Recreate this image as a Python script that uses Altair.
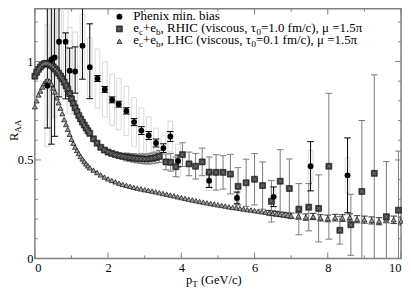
import altair as alt
import pandas as pd

# ---------------- data ----------------
phenix_x = [0.34, 0.45, 0.54, 0.66, 0.84, 0.95, 1.10, 1.30, 1.50, 1.71, 1.91, 2.11, 2.29,
            2.50, 2.71, 2.91, 3.11, 3.31, 3.51, 3.70, 3.91, 4.76, 5.52, 6.52, 7.53, 8.54]
phenix_y = [0.877, 1.01, 1.02, 1.10, 1.10, 0.953, 0.949, 1.08, 0.971, 0.913, 0.858, 0.805, 0.783,
            0.749, 0.692, 0.649, 0.624, 0.586, 0.560, 0.619, 0.495, 0.395, 0.307, 0.313, 0.468, 0.422]
phenix_lo = [0.215, 0.43, 0.40, 0.28, 0.29, 0.115, 0.11, 0.17, 0.16, 0.015, 0.015, 0.015, 0.015,
             0.016, 0.018, 0.02, 0.02, 0.02, 0.022, 0.025, 0.03, 0.035, 0.03, 0.05, 0.125, 0.19]
phenix_hi = [0.6, 0.6, 0.6, 0.6, 0.045, 0.115, 0.125, 0.2, 0.22, 0.015, 0.015, 0.015, 0.015,
             0.016, 0.018, 0.02, 0.02, 0.02, 0.022, 0.025, 0.03, 0.035, 0.03, 0.05, 0.125, 0.19]
phenix_sys = [0.31, 0.30, 0.30, 0.28, 0.27, 0.22, 0.20, 0.16, 0.15, 0.15, 0.14, 0.13, 0.13,
              0.125, 0.125, 0.115, 0.095, 0.075, 0.066, 0.078, 0.085, 0.05, 0.03, 0.033, 0.08, 0.09]

rhic_x = [0.0, 0.05, 0.1, 0.15, 0.2, 0.25, 0.3, 0.35, 0.4, 0.45, 0.5, 0.55, 0.6, 0.65, 0.7, 0.75,
          0.8, 0.85, 0.9, 0.95, 1.0, 1.05, 1.1, 1.15, 1.2, 1.25, 1.3, 1.35, 1.4, 1.45, 1.5,
          1.6, 1.7, 1.8, 1.9, 2.0, 2.1, 2.2, 2.3, 2.4, 2.5, 2.6, 2.7, 2.8, 2.9, 3.0, 3.1, 3.2, 3.3, 3.4,
          3.58, 3.71, 3.85, 4.03, 4.21, 4.39, 4.57, 4.76, 4.95, 5.14, 5.34, 5.55, 5.77, 6.0, 6.22,
          6.46, 6.70, 6.95, 7.21, 7.48, 7.75, 8.03, 8.33, 8.63, 8.93, 9.27, 9.6, 9.93]
rhic_y = [0.925, 0.945, 0.96, 0.972, 0.982, 0.988, 0.99, 0.99, 0.986, 0.98, 0.972, 0.962, 0.952,
          0.94, 0.926, 0.912, 0.895, 0.877, 0.86, 0.837, 0.81, 0.787, 0.765, 0.745, 0.725, 0.708,
          0.692, 0.677, 0.662, 0.648, 0.635,
          0.607, 0.585, 0.564, 0.55, 0.54, 0.533, 0.527, 0.522, 0.518, 0.515, 0.512, 0.51, 0.507,
          0.506, 0.505, 0.505, 0.508, 0.512, 0.518,
          0.49, 0.488, 0.465, 0.527, 0.48, 0.468, 0.49, 0.438, 0.437, 0.437, 0.428, 0.366, 0.384,
          0.402, 0.37, 0.29, 0.392, 0.355, 0.25, 0.26, 0.254, 0.468, 0.143, 0.171, 0.34, 0.432,
          0.212, 0.245]
rhic_err_x = [2.5, 2.6, 2.7, 2.8, 2.9, 3.0, 3.1, 3.2, 3.3, 3.4,
              3.58, 3.71, 3.85, 4.03, 4.21, 4.39, 4.57, 4.76, 4.95, 5.14, 5.34, 5.55, 5.77, 6.0, 6.22,
              6.46, 6.70, 6.95, 7.21, 7.48, 7.75, 8.03, 8.33, 8.63, 8.93, 9.27, 9.6, 9.93]
rhic_err = [0.02, 0.02, 0.022, 0.022, 0.024, 0.025, 0.026, 0.027, 0.028, 0.03,
            0.04, 0.045, 0.05, 0.06, 0.06, 0.065, 0.07, 0.077, 0.09, 0.085, 0.1, 0.095, 0.12, 0.13,
            0.12, 0.105, 0.16, 0.15, 0.13, 0.12, 0.17, 0.37, 0.07, 0.155, 0.36, 0.5, 0.28, 0.3]

lhc_x = [0.0, 0.05, 0.1, 0.15, 0.2, 0.25, 0.3, 0.35, 0.4, 0.45, 0.5, 0.55, 0.6, 0.65, 0.7, 0.75,
         0.8, 0.85, 0.9, 0.95, 1.0, 1.05, 1.1, 1.15, 1.2, 1.25, 1.3, 1.35, 1.4, 1.45, 1.5,
         1.6, 1.7, 1.8, 1.9, 2.0, 2.1, 2.2, 2.3, 2.4, 2.5, 2.6, 2.7, 2.8, 2.9, 3.0, 3.1, 3.2, 3.3,
         3.4, 3.5, 3.6, 3.7, 3.8, 3.9, 4.0, 4.1, 4.2, 4.3, 4.4, 4.5, 4.6, 4.7, 4.8, 4.9, 5.0, 5.1,
         5.2, 5.3, 5.4, 5.5, 5.6, 5.7, 5.8, 5.9, 6.0, 6.1, 6.2, 6.3, 6.4, 6.5, 6.6, 6.7, 6.8, 6.9,
         7.0, 7.2, 7.4, 7.6, 7.8, 8.0, 8.2, 8.4, 8.6, 8.8, 9.0, 9.2, 9.4, 9.6, 9.8, 10.0]
lhc_y = [0.77, 0.80, 0.83, 0.85, 0.87, 0.888, 0.90, 0.905, 0.90, 0.885, 0.865, 0.845, 0.815, 0.79,
         0.763, 0.735, 0.705, 0.68, 0.655, 0.63, 0.605, 0.585, 0.565, 0.548, 0.533, 0.518, 0.505,
         0.492, 0.48, 0.47, 0.46,
         0.448, 0.436, 0.424, 0.413, 0.404, 0.396, 0.389, 0.382, 0.376, 0.371, 0.366, 0.361, 0.357,
         0.353, 0.349, 0.346, 0.342, 0.338, 0.334, 0.330, 0.326, 0.322, 0.318, 0.313, 0.309, 0.305,
         0.301, 0.297, 0.293, 0.289, 0.286, 0.282, 0.279, 0.276, 0.272, 0.269, 0.266, 0.262, 0.259,
         0.257, 0.254, 0.251, 0.248, 0.246, 0.243, 0.240, 0.237, 0.235, 0.232, 0.229, 0.227, 0.224,
         0.222, 0.219, 0.216,
         0.215, 0.21, 0.213, 0.206, 0.203, 0.207, 0.205, 0.208, 0.199, 0.197, 0.193, 0.189, 0.2,
         0.196, 0.19]
lhc_err_x = [6.4, 6.5, 6.6, 6.7, 6.8, 6.9, 7.0, 7.2, 7.4, 7.6, 7.8, 8.0, 8.2, 8.4, 8.6, 8.8, 9.0,
             9.2, 9.4, 9.6, 9.8, 10.0]
lhc_err = [0.012, 0.012, 0.012, 0.012, 0.012, 0.012, 0.014, 0.016, 0.016, 0.016, 0.016, 0.017,
           0.017, 0.017, 0.018, 0.018, 0.018, 0.018, 0.018, 0.019, 0.019, 0.02]

x_major = [0, 2, 4, 6, 8, 10]
x_minor = [1, 3, 5, 7, 9]
y_major = [0, 0.5, 1]
y_minor = [0.1, 0.2, 0.3, 0.4, 0.6, 0.7, 0.8, 0.9, 1.1, 1.2]

legend_rows = ["Phenix min. bias", "RHIC", "LHC"]

# ---------------- geometry ----------------
W, H = 368, 251
PXU = W / 10.0          # px per GeV/c
PYU = 198.0             # px per unit of R_AA
YMAX = H / PYU
FONT = "Liberation Serif"
FS, SFS = 13, 9
TFS, TSFS = 12.5, 9
AXC = "#808080"

xs = alt.Scale(domain=[0, 10], nice=False, zero=False)
ys = alt.Scale(domain=[0, YMAX], nice=False, zero=False)
xaxis = alt.Axis(values=x_major, labelExpr="datum.value", ticks=False, domain=False, grid=False,
                 title=None, labelFont=FONT, labelFontSize=12.5, labelColor="black", labelPadding=3)
yaxis = alt.Axis(values=y_major, labelExpr="datum.value", ticks=False, domain=False, grid=False,
                 title=None, labelFont=FONT, labelFontSize=12.5, labelColor="black", labelPadding=2)
X = alt.X("x:Q", scale=xs, axis=xaxis)
Y = alt.Y("y:Q", scale=ys, axis=yaxis)

def px2data(px, py):
    return px / PXU, (H - py) / PYU

# ---------------- frames ----------------
ph = pd.DataFrame(dict(x=phenix_x, y=phenix_y, lo=phenix_lo, hi=phenix_hi, sys=phenix_sys))
ph["ylo"] = ph.y - ph.lo
ph["yhi"] = ph.y + ph.hi
ph["bx1"] = ph.x - 0.065
ph["bx2"] = ph.x + 0.065
ph["by1"] = ph.y - ph.sys
ph["by2"] = ph.y + ph.sys
ph["cx1"] = ph.x - 0.09
ph["cx2"] = ph.x + 0.09

rh = pd.DataFrame(dict(x=rhic_x, y=rhic_y))
rhe = pd.DataFrame(dict(x=rhic_err_x, e=rhic_err)).merge(rh, on="x")
rhe["ylo"] = rhe.y - rhe.e
rhe["yhi"] = rhe.y + rhe.e
rhe["cx1"] = rhe.x - 0.09
rhe["cx2"] = rhe.x + 0.09

lh = pd.DataFrame(dict(x=lhc_x, y=lhc_y))
lhe = pd.DataFrame(dict(x=lhc_err_x, e=lhc_err)).merge(lh, on="x")
lhe["ylo"] = lhe.y - lhe.e
lhe["yhi"] = lhe.y + lhe.e
lhe["cx1"] = lhe.x - 0.09
lhe["cx2"] = lhe.x + 0.09


def errbars(df, color, width=1.0):
    base = alt.Chart(df)
    v = base.mark_rule(color=color, strokeWidth=width, clip=True).encode(
        x=X, y=alt.Y("ylo:Q", scale=ys), y2="yhi:Q")
    c1 = base.mark_rule(color=color, strokeWidth=width, clip=True).encode(
        x=alt.X("cx1:Q", scale=xs), x2="cx2:Q", y=alt.Y("ylo:Q", scale=ys))
    c2 = base.mark_rule(color=color, strokeWidth=width, clip=True).encode(
        x=alt.X("cx1:Q", scale=xs), x2="cx2:Q", y=alt.Y("yhi:Q", scale=ys))
    return [v, c1, c2]

boxes = alt.Chart(ph).mark_rect(fill=None, stroke="#dadada", strokeWidth=1, clip=True).encode(
    x=alt.X("bx1:Q", scale=xs), x2="bx2:Q", y=alt.Y("by1:Q", scale=ys), y2="by2:Q")

TRI = dict(shape="triangle-up", filled=True, fill="#9c9c9c", stroke="#1e1e1e", strokeWidth=0.8,
           size=26, opacity=1)
SQ = dict(fill="#3c3c3c", stroke="#111111", strokeWidth=0.6, size=36, opacity=1)
SQX = dict(shape="M-1,-1L1,1M1,-1L-1,1", filled=False, stroke="#9a9a9a", strokeWidth=0.6,
           size=10, opacity=1)

tri = alt.Chart(lh).mark_point(**TRI).encode(x=X, y=Y)
sq = alt.Chart(rh).mark_square(**SQ).encode(x=X, y=Y)
sqx = alt.Chart(rh).mark_point(**SQX).encode(x=X, y=Y)
circ = alt.Chart(ph).mark_circle(color="black", size=34, opacity=1).encode(x=X, y=Y)

# ---------------- legend / titles ----------------
TW = {'e': 444, 'c': 444, '+': 564, 'b': 500, ',': 250, ' ': 250, 'R': 667, 'H': 722, 'I': 333,
      'C': 667, 'L': 611, '(': 333, ')': 333, 'v': 500, 'i': 278, 's': 389, 'o': 500, 'u': 500,
      'τ': 439, '0': 500, '1': 500, '5': 500, '.': 250, '=': 564, 'f': 333, 'm': 778, '/': 278,
      'μ': 576, 'π': 549, 'P': 556, 'h': 500, 'n': 500, 'x': 500, 'a': 444, 'T': 611, 'G': 722,
      'V': 722, 'p': 500, 'A': 722}

def tw(s, fs):
    return sum(TW.get(ch, 500) for ch in s) * fs / 1000.0

def layout(parts, x0, base, fs_main, fs_sub, subdrop=3.0):
    out, x = [], x0
    for t, sub in parts:
        fs = fs_sub if sub else fs_main
        lead = len(t) - len(t.lstrip(" "))
        xx = x + tw(" " * lead, fs)
        out.append(dict(t=t.strip(" "), px=xx, py=base + (subdrop if sub else 0.0), fs=fs))
        x += tw(t, fs)
    return out

LX, LS = 99, 85
rows_base = [11.0, 23.3, 35.6]
pieces = []
pieces += layout([(legend_rows[0], False)], LX, rows_base[0], FS, SFS)
pieces += layout([("e", False), ("c", True), ("+e", False), ("b", True),
                  (", " + legend_rows[1] + " (viscous, τ", False), ("0", True),
                  ("=1.0 fm/c), μ =1.5π", False)], LX, rows_base[1], FS, SFS)
pieces += layout([("e", False), ("c", True), ("+e", False), ("b", True),
                  (", " + legend_rows[2] + " (viscous, τ", False), ("0", True),
                  ("=0.1 fm/c), μ =1.5π", False)], LX, rows_base[2], FS, SFS)
pieces += layout([("p", False), ("T", True), (" (GeV/c)", False)], 152, 277, TFS, TSFS)
tx = pd.DataFrame(pieces)
tx["x"], tx["y"] = px2data(tx.px, tx.py)

texts = alt.Chart(tx).mark_text(align="left", baseline="alphabetic", font=FONT, color="black",
                                clip=False).encode(
    x=X, y=Y, text="t:N", size=alt.Size("fs:Q", scale=None, legend=None))

ryt = [dict(t="R", px=-17.0, py=133.0, fs=TFS),
       dict(t="AA", px=-14.0, py=133.0 - tw("R", TFS), fs=TSFS)]
yt = pd.DataFrame(ryt)
yt["x"], yt["y"] = px2data(yt.px, yt.py)
ytitle = alt.Chart(yt).mark_text(align="left", baseline="alphabetic", font=FONT, color="black",
                                 angle=270, clip=False).encode(
    x=X, y=Y, text="t:N", size=alt.Size("fs:Q", scale=None, legend=None))

lg = pd.DataFrame([dict(k="c", px=LS, py=8.0), dict(k="s", px=LS, py=20.3),
                   dict(k="t", px=LS, py=32.8)])
lg["x"], lg["y"] = px2data(lg.px, lg.py)
lg_c = alt.Chart(lg[lg.k == "c"]).mark_circle(color="black", size=34, opacity=1).encode(x=X, y=Y)
lg_s = alt.Chart(lg[lg.k == "s"]).mark_square(**SQ).encode(x=X, y=Y)
lg_sx = alt.Chart(lg[lg.k == "s"]).mark_point(**SQX).encode(x=X, y=Y)
lg_t = alt.Chart(lg[lg.k == "t"]).mark_point(**TRI).encode(x=X, y=Y)

# ---------------- inward ticks ----------------
def tdf(vals):
    return pd.DataFrame(dict(v=vals))

TMAJ, TMIN = 6, 3
tick_layers = []
for vals, L in ((x_major, TMAJ), (x_minor, TMIN)):
    d = alt.Chart(tdf(vals))
    tick_layers.append(d.mark_rule(color=AXC, strokeWidth=1).encode(
        x=alt.X("v:Q", scale=xs), y=alt.value(H), y2=alt.value(H - L)))
    tick_layers.append(d.mark_rule(color=AXC, strokeWidth=1).encode(
        x=alt.X("v:Q", scale=xs), y=alt.value(0), y2=alt.value(L)))
for vals, L in ((y_major, TMAJ), (y_minor, TMIN)):
    d = alt.Chart(tdf(vals))
    tick_layers.append(d.mark_rule(color=AXC, strokeWidth=1).encode(
        y=alt.Y("v:Q", scale=ys), x=alt.value(0), x2=alt.value(L)))
    tick_layers.append(d.mark_rule(color=AXC, strokeWidth=1).encode(
        y=alt.Y("v:Q", scale=ys), x=alt.value(W), x2=alt.value(W - L)))

base_layer = alt.Chart(lh).mark_point(opacity=0).encode(x=X, y=Y)

layers = [base_layer, boxes] + errbars(lhe, "#1a1a1a", 0.9) + errbars(rhe, "#7a7a7a", 1.0) \
    + errbars(ph, "black", 1.0) + [tri, sq, sqx, circ] + tick_layers \
    + [lg_t, lg_s, lg_sx, lg_c, texts, ytitle]

chart = alt.layer(*layers).properties(
    width=W, height=H,
    autosize=alt.AutoSizeParams(type="none"),
    padding={"left": 27, "top": 0, "right": 2, "bottom": 31},
    background="white",
).configure_view(stroke=AXC, strokeWidth=1.5)

chart.save("out.html", embed_options={"renderer": "svg", "actions": False})
